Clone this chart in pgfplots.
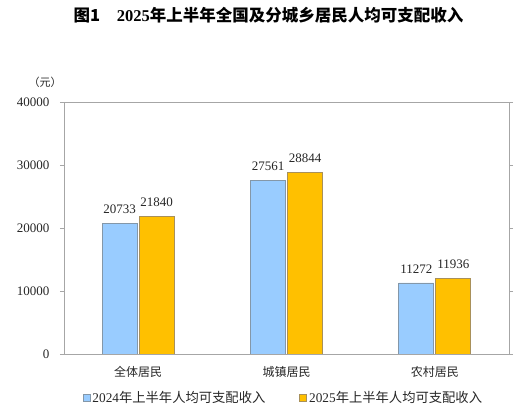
\documentclass[border=0pt]{standalone}
\usepackage{fontspec}
\setmainfont{Liberation Serif}
\newfontfamily\cjk{Noto Sans CJK SC}
\usepackage{pgfplots}
\pgfplotsset{compat=1.18}
\definecolor{barblue}{HTML}{99CCFF}
\definecolor{baryellow}{HTML}{FFC000}
\definecolor{edgeblue}{HTML}{8497A8}
\definecolor{edgeyellow}{HTML}{A8905A}
\definecolor{framegray}{HTML}{A6A6A6}
\definecolor{txt}{HTML}{262626}
\begin{document}
\begin{tikzpicture}
\path[use as bounding box] (0,0) rectangle (525bp,409bp);
\node[font={\cjk\bfseries\fontsize{16.5bp}{18bp}\selectfont}, text=black] at (268.5bp,394bp)
  {图1\hspace{1em}{\rmfamily\bfseries 2025}年上半年全国及分城乡居民人均可支配收入};
\node[font={\cjk\fontsize{11bp}{12bp}\selectfont}, text=txt] at (45bp,327bp) {（元）};
\begin{axis}[
  at={(64bp,55bp)}, anchor=south west,
  width=445bp, height=252bp, scale only axis,
  ybar=2bp, bar width=35bp,
  xmin=-0.5, xmax=2.5, ymin=0, ymax=40000,
  xtick={0,1,2},
  xticklabels={全体居民,城镇居民,农村居民},
  ytick={0,10000,20000,30000,40000},
  scaled y ticks=false,
  /pgf/number format/.cd, 1000 sep={}, assume math mode=true,
  /pgfplots/.cd,
  axis line style={draw=framegray},
  major x tick style={draw=none},
  ytick style={draw=framegray},
  tick align=outside, major tick length=4bp,
  ymajorgrids=false,
  yticklabel style={font=\fontsize{13bp}{14bp}\selectfont, text=txt, xshift=-7bp},
  xticklabel style={font={\cjk\fontsize{12bp}{13bp}\selectfont}, text=txt, yshift=-5bp},
  nodes near coords,
  every node near coord/.append style={font=\fontsize{13bp}{14bp}\selectfont, text=txt, yshift=6bp},
  legend style={at={(axis description cs:0.493,0)}, anchor=center, yshift=-44bp,
    draw=none, fill=none, legend columns=2,
    font={\cjk\fontsize{13.3bp}{14bp}\selectfont}, text=txt,
    /tikz/every even column/.append style={column sep=32bp},
    inner sep=0pt},
  legend image code/.code={\draw[#1] (0bp,-3.5bp) rectangle (7bp,3.5bp);},
]
\addplot[fill=barblue, draw=edgeblue, line width=0.8pt] coordinates {(0,20733) (1,27561) (2,11272)};
\addplot[fill=baryellow, draw=edgeyellow, line width=0.8pt] coordinates {(0,21840) (1,28844) (2,11936)};
\legend{{\rmfamily 2024}年上半年人均可支配收入, {\rmfamily 2025}年上半年人均可支配收入}
\end{axis}
\end{tikzpicture}
\end{document}
